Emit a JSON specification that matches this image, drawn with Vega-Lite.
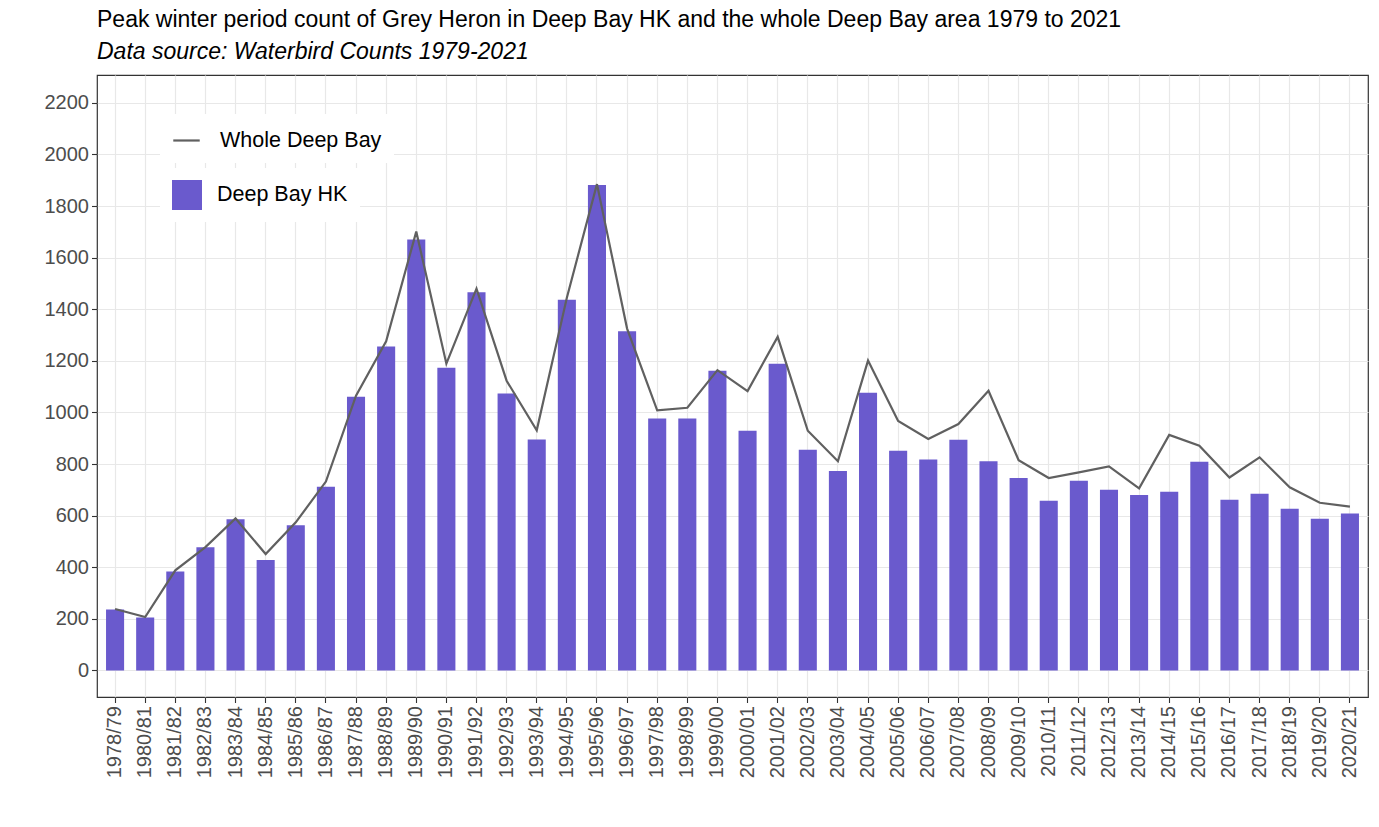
{
  "$schema": "https://vega.github.io/schema/vega-lite/v6.json",
  "width": 1271,
  "height": 622,
  "autosize": {"type": "none"},
  "padding": {"left": 97, "top": 75, "right": 11, "bottom": 130},
  "title": {
    "text": "Peak winter period count of Grey Heron in Deep Bay HK and the whole Deep Bay area 1979 to 2021",
    "subtitle": "Data source: Waterbird Counts 1979-2021",
    "anchor": "start",
    "frame": "group",
    "font": "Liberation Sans",
    "fontSize": 23,
    "fontWeight": "normal",
    "color": "black",
    "subtitleFont": "Liberation Sans",
    "subtitleFontSize": 23,
    "subtitleFontStyle": "italic",
    "subtitleColor": "black",
    "subtitlePadding": 9,
    "offset": 11
  },
  "data": {
    "values": [
      {"season": "1978/79", "hk": 236, "whole": 238},
      {"season": "1980/81", "hk": 205, "whole": 207},
      {"season": "1981/82", "hk": 383, "whole": 388},
      {"season": "1982/83", "hk": 477, "whole": 478},
      {"season": "1983/84", "hk": 586, "whole": 589},
      {"season": "1984/85", "hk": 428, "whole": 451},
      {"season": "1985/86", "hk": 563, "whole": 574},
      {"season": "1986/87", "hk": 712, "whole": 732},
      {"season": "1987/88", "hk": 1061, "whole": 1065},
      {"season": "1988/89", "hk": 1256, "whole": 1276},
      {"season": "1989/90", "hk": 1670, "whole": 1701},
      {"season": "1990/91", "hk": 1173, "whole": 1189},
      {"season": "1991/92", "hk": 1466, "whole": 1480},
      {"season": "1992/93", "hk": 1073, "whole": 1123},
      {"season": "1993/94", "hk": 895, "whole": 931},
      {"season": "1994/95", "hk": 1437, "whole": 1445},
      {"season": "1995/96", "hk": 1882, "whole": 1885},
      {"season": "1996/97", "hk": 1315, "whole": 1325},
      {"season": "1997/98", "hk": 977, "whole": 1008},
      {"season": "1998/99", "hk": 977, "whole": 1018},
      {"season": "1999/00", "hk": 1162, "whole": 1164},
      {"season": "2000/01", "hk": 929, "whole": 1083},
      {"season": "2001/02", "hk": 1189, "whole": 1293},
      {"season": "2002/03", "hk": 855, "whole": 929},
      {"season": "2003/04", "hk": 773, "whole": 811},
      {"season": "2004/05", "hk": 1076, "whole": 1201},
      {"season": "2005/06", "hk": 852, "whole": 967},
      {"season": "2006/07", "hk": 818, "whole": 897},
      {"season": "2007/08", "hk": 894, "whole": 955},
      {"season": "2008/09", "hk": 811, "whole": 1084},
      {"season": "2009/10", "hk": 746, "whole": 815},
      {"season": "2010/11", "hk": 658, "whole": 746},
      {"season": "2011/12", "hk": 735, "whole": 768},
      {"season": "2012/13", "hk": 700, "whole": 791},
      {"season": "2013/14", "hk": 680, "whole": 706},
      {"season": "2014/15", "hk": 693, "whole": 913},
      {"season": "2015/16", "hk": 809, "whole": 871},
      {"season": "2016/17", "hk": 662, "whole": 748},
      {"season": "2017/18", "hk": 685, "whole": 826},
      {"season": "2018/19", "hk": 627, "whole": 710},
      {"season": "2019/20", "hk": 588, "whole": 650},
      {"season": "2020/21", "hk": 608, "whole": 635}
    ]
  },
  "encoding": {
    "x": {
      "field": "season",
      "type": "ordinal",
      "sort": null,
      "title": null,
      "scale": {"paddingInner": 0.4, "paddingOuter": 0.3},
      "axis": {
        "labelAngle": -90,
        "labelFontSize": 20,
        "labelColor": "#4d4d4d",
        "labelPadding": 3,
        "tickColor": "#333333",
        "tickSize": 5.5,
        "tickWidth": 1.1,
        "domain": false,
        "grid": true,
        "gridColor": "#e8e8e8",
        "gridWidth": 1.2,
        "bandPosition": 0.5
      }
    }
  },
  "layer": [
    {
      "mark": {"type": "bar"},
      "encoding": {
        "y": {
          "field": "hk",
          "type": "quantitative",
          "title": null,
          "scale": {"domain": [-103, 2308], "nice": false, "zero": false},
          "axis": {
            "values": [0, 100, 200, 300, 400, 500, 600, 700, 800, 900, 1000, 1100, 1200, 1300, 1400, 1500, 1600, 1700, 1800, 1900, 2000, 2100, 2200],
            "format": "d",
            "labelExpr": "datum.value % 200 == 0 ? datum.label : ''",
            "labelFontSize": 20,
            "labelColor": "#4d4d4d",
            "labelPadding": 3,
            "tickColor": "#333333",
            "tickOpacity": {"condition": {"test": "datum.value % 200 == 0", "value": 1}, "value": 0},
            "tickSize": 5.5,
            "tickWidth": 1.1,
            "domain": false,
            "gridColor": "#e8e8e8",
            "gridWidth": {"condition": {"test": "datum.value % 200 == 0", "value": 1.2}, "value": 0.7}
          }
        },
        "color": {
          "datum": "Deep Bay HK",
          "scale": {"range": ["#6a5acd"]},
          "legend": {
            "title": null,
            "orient": "none",
            "legendX": 63,
            "legendY": 93,
            "symbolType": "square",
            "symbolSize": 900,
            "symbolStrokeWidth": 0,
            "symbolOpacity": 1,
            "labelFontSize": 21.5,
            "labelColor": "black",
            "labelOffset": 15,
            "labelLimit": 400,
            "fillColor": "white",
            "padding": 12
          }
        }
      }
    },
    {
      "mark": {"type": "line", "strokeWidth": 2.2},
      "encoding": {
        "y": {"field": "whole", "type": "quantitative"},
        "stroke": {
          "datum": "Whole Deep Bay",
          "scale": {"range": ["#606060"]},
          "legend": {
            "title": null,
            "orient": "none",
            "legendX": 63,
            "legendY": 39,
            "symbolType": "stroke",
            "symbolSize": 700,
            "symbolStrokeWidth": 2.2,
            "labelFontSize": 21.5,
            "labelColor": "black",
            "labelOffset": 19,
            "labelLimit": 400,
            "fillColor": "white",
            "padding": 12
          }
        }
      }
    }
  ],
  "config": {
    "font": "Liberation Sans",
    "view": {"stroke": "#333333", "strokeWidth": 1.2}
  }
}
